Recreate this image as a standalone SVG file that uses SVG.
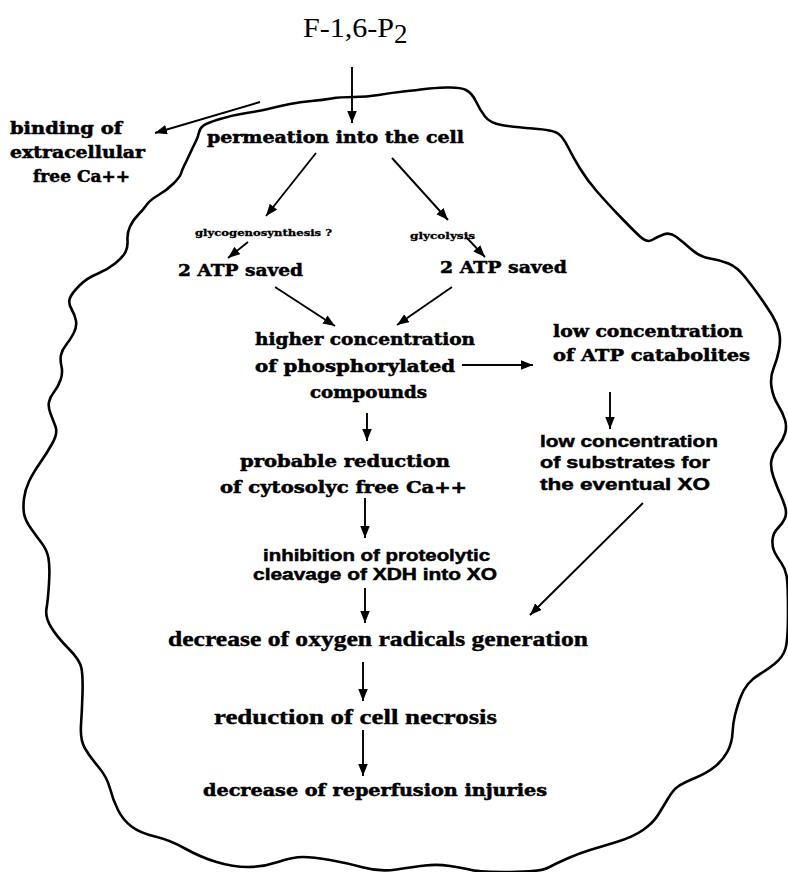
<svg xmlns="http://www.w3.org/2000/svg" width="788" height="872" viewBox="0 0 788 872">
<defs>
<marker id="ah" markerUnits="userSpaceOnUse" markerWidth="13" markerHeight="10" refX="12" refY="4.75" orient="auto">
<path d="M0,0 L12,4.75 L0,9.5 z" fill="#000"/>
</marker>
<style>
.slab{font-family:"DejaVu Serif",serif;font-weight:bold;font-size:16px;fill:#000;stroke:#000;stroke-width:0.5}
.big{font-size:17px}
.tiny{font-family:"DejaVu Serif",serif;font-weight:bold;font-size:9px;fill:#000;stroke:#000;stroke-width:0.3}
.sans{font-family:"Liberation Sans","DejaVu Sans",sans-serif;font-weight:bold;font-size:17px;fill:#000;stroke:#000;stroke-width:0.5}
.cond{font-family:"Liberation Serif",serif;font-weight:bold;font-size:20px;fill:#000;stroke:#000;stroke-width:0.4}
.times{font-family:"Liberation Serif",serif;font-size:27px;fill:#000}
.c line{stroke:#000;stroke-width:1.9;fill:none;marker-end:url(#ah)}
.mem{fill:none;stroke:#000;stroke-width:2.6;stroke-linejoin:round;stroke-linecap:round}
</style>
</defs>
<rect width="788" height="872" fill="#fff"/>
<path id="membrane" class="mem" d="M203.5,125.5 Q207,123 220,119 Q233,115 246.5,113 Q260,111 270,108.5 Q280,106 290,104 Q300,102 311.5,101 Q323,100 331.5,98.5 Q340,97 353.5,97 Q367,97 378.5,95 Q390,93 403.5,91.5 Q417,90 425,89 Q433,88 446.5,87.5 Q460,87 466,90 Q472,93 476,101.5 Q480,110 485,116.5 Q490,123 501.5,125 Q513,127 533,128.5 Q553,130 558,133.5 Q563,137 568,147 Q573,157 580,168.5 Q587,180 597,191.5 Q607,203 620,216.5 Q633,230 640,236.5 Q647,243 652,240 Q657,237 663.5,234.5 Q670,232 676.5,237 Q683,242 691.5,249.5 Q700,257 710,258.5 Q720,260 728.5,263.5 Q737,267 745,277 Q753,287 760,297 Q767,307 772,315 Q777,323 779,331.5 Q781,340 779,350 Q777,360 773.5,368.5 Q770,377 771.5,387 Q773,397 778,405 Q783,413 785,420 Q787,427 785,433.5 Q783,440 778,446.5 Q773,453 771.5,460 Q770,467 773.5,477 Q777,487 780,493.5 Q783,500 785,506.5 Q787,513 785,518 Q783,523 778,528 Q773,533 772.5,540 Q772,547 774.5,552 Q777,557 781,562.5 Q785,568 786.5,575.5 Q788,583 788,611.5 Q788,640 785.5,648.5 Q783,657 775,663.5 Q767,670 760,674 Q753,678 748,684 Q743,690 740,698.5 Q737,707 735,715 Q733,723 732.5,733 Q732,743 727.5,751.5 Q723,760 715,766.5 Q707,773 695,778 Q683,783 678,786.5 Q673,790 668,798.5 Q663,807 658,815 Q653,823 643,830 Q633,837 616.5,842 Q600,847 590,850 Q580,853 568.5,858 Q557,863 548.5,867.5 Q540,872 510,872 Q480,872 471.5,870 Q463,868 450,866 Q437,864 425,865.5 Q413,867 396.5,869.5 Q380,872 363.5,867.5 Q347,863 330,860 Q313,857 303,857 Q293,857 278,862 Q263,867 248,867 Q233,867 216.5,862 Q200,857 185,848.5 Q170,840 155,836.5 Q140,833 131.5,826.5 Q123,820 118,810 Q113,800 110,788.5 Q107,777 98.5,767 Q90,757 85,748.5 Q80,740 81,725 Q82,710 82.5,693.5 Q83,677 81.5,668.5 Q80,660 68.5,648.5 Q57,637 51,627 Q45,617 46.5,608.5 Q48,600 49,583.5 Q50,567 48.5,558.5 Q47,550 42,543.5 Q37,537 31,528.5 Q25,520 24,513.5 Q23,507 24,498.5 Q25,490 29,481.5 Q33,473 40,463 Q47,453 52.5,443 Q58,433 55.5,426.5 Q53,420 50.5,413.5 Q48,407 49,402 Q50,397 54,392 Q58,387 60.5,380 Q63,373 61.5,366.5 Q60,360 61,355 Q62,350 66,345 Q70,340 73.5,333.5 Q77,327 76,321 Q75,315 71.5,309 Q68,303 70,298 Q72,293 79.5,285.5 Q87,278 97,274 Q107,270 115,263.5 Q123,257 125.5,252 Q128,247 127.5,240 Q127,233 130,226.5 Q133,220 138,215 Q143,210 146.5,205 Q150,200 158.5,195 Q167,190 173.5,183.5 Q180,177 181,173.5 Q182,170 184.5,165 Q187,160 190,153.5 Q193,147 195.5,142 Q198,137 199,132.5 Q200,128 203.5,125.5 Z"/>
<g id="connectors" class="c">
<line x1="352" y1="67" x2="352" y2="123"/>
<line x1="260" y1="102" x2="155" y2="133"/>
<line x1="316" y1="153" x2="266" y2="216"/>
<line x1="392" y1="158" x2="448" y2="220"/>
<line x1="248" y1="242" x2="228" y2="258"/>
<line x1="467" y1="238" x2="485" y2="257"/>
<line x1="275" y1="287" x2="335" y2="326"/>
<line x1="452" y1="287" x2="397" y2="325"/>
<line x1="462" y1="365" x2="533" y2="365"/>
<line x1="367" y1="413" x2="367" y2="441"/>
<line x1="610" y1="392" x2="610" y2="429"/>
<line x1="643" y1="503" x2="530" y2="615"/>
<line x1="365" y1="498" x2="365" y2="538"/>
<line x1="365" y1="588" x2="365" y2="623"/>
<line x1="363" y1="662" x2="363" y2="701"/>
<line x1="363" y1="730" x2="363" y2="776"/>
</g>
<g id="n-f16p2"><text class="times" x="303" y="37" textLength="91" lengthAdjust="spacingAndGlyphs">F-1,6-P</text><text class="times" x="394" y="43" font-size="18">2</text></g>
<g id="n-binding"><text class="slab" x="10" y="134" textLength="112" lengthAdjust="spacingAndGlyphs">binding of</text><text class="slab" x="10" y="158" textLength="135" lengthAdjust="spacingAndGlyphs">extracellular</text><text class="slab" x="33" y="182" textLength="97" lengthAdjust="spacingAndGlyphs">free Ca++</text></g>
<g id="n-permeation"><text class="slab" x="207" y="143" textLength="257" lengthAdjust="spacingAndGlyphs">permeation into the cell</text></g>
<g id="n-glycogeno"><text class="tiny" x="195" y="236" textLength="137" lengthAdjust="spacingAndGlyphs">glycogenosynthesis ?</text></g>
<g id="n-glycolysis"><text class="tiny" x="410" y="239" textLength="65" lengthAdjust="spacingAndGlyphs">glycolysis</text></g>
<g id="n-atp-left"><text class="slab big" x="178" y="276" textLength="125" lengthAdjust="spacingAndGlyphs">2 ATP saved</text></g>
<g id="n-atp-right"><text class="slab big" x="440" y="273" textLength="127" lengthAdjust="spacingAndGlyphs">2 ATP saved</text></g>
<g id="n-higher"><text class="slab" x="255" y="345" textLength="220" lengthAdjust="spacingAndGlyphs">higher concentration</text><text class="slab" x="255" y="372" textLength="200" lengthAdjust="spacingAndGlyphs">of  phosphorylated</text><text class="slab" x="310" y="398" textLength="117" lengthAdjust="spacingAndGlyphs">compounds</text></g>
<g id="n-low-atp"><text class="slab" x="553" y="337" textLength="190" lengthAdjust="spacingAndGlyphs">low concentration</text><text class="slab" x="553" y="361" textLength="197" lengthAdjust="spacingAndGlyphs">of ATP catabolites</text></g>
<g id="n-low-sub"><text class="sans" x="540" y="447" textLength="178" lengthAdjust="spacingAndGlyphs">low concentration</text><text class="sans" x="540" y="468" textLength="170" lengthAdjust="spacingAndGlyphs">of substrates  for</text><text class="sans" x="540" y="490" textLength="170" lengthAdjust="spacingAndGlyphs">the  eventual XO</text></g>
<g id="n-probable"><text class="slab" x="240" y="467" textLength="210" lengthAdjust="spacingAndGlyphs">probable  reduction</text><text class="slab" x="220" y="493" textLength="247" lengthAdjust="spacingAndGlyphs">of cytosolyc free Ca++</text></g>
<g id="n-inhibition"><text class="sans" x="263" y="561" textLength="227" lengthAdjust="spacingAndGlyphs">inhibition of proteolytic</text><text class="sans" x="253" y="580" textLength="244" lengthAdjust="spacingAndGlyphs">cleavage of XDH into XO</text></g>
<g id="n-oxygen"><text class="cond" x="168" y="646" textLength="420" lengthAdjust="spacingAndGlyphs">decrease of oxygen radicals generation</text></g>
<g id="n-necrosis"><text class="cond" x="214" y="724" textLength="283" lengthAdjust="spacingAndGlyphs">reduction  of cell necrosis</text></g>
<g id="n-reperfusion"><text class="slab" x="203" y="796" textLength="344" lengthAdjust="spacingAndGlyphs">decrease of reperfusion injuries</text></g>
</svg>
